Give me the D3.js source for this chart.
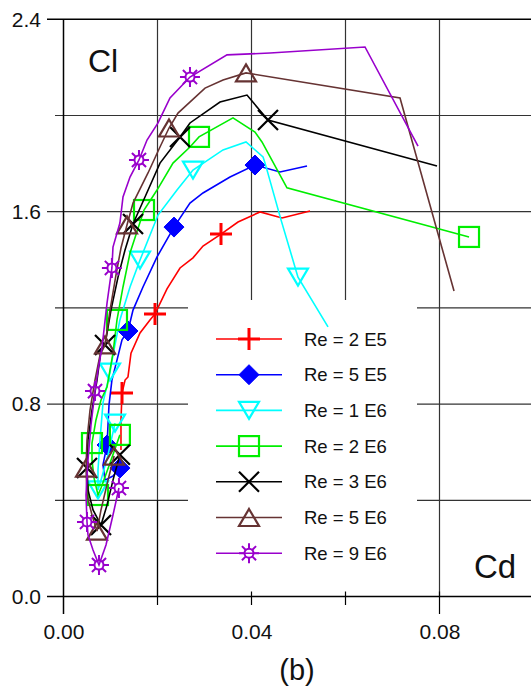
<!DOCTYPE html>
<html><head><meta charset="utf-8">
<script src="https://cdn.jsdelivr.net/npm/d3@7"></script>
<style>html,body{margin:0;padding:0;background:#fff;}svg{display:block;font-family:"Liberation Sans",Arial,sans-serif;}</style>
</head><body>
<svg id="c" width="531" height="690"></svg>
<script>
// ---- data (Cd, Cl) per Reynolds number ----
const labels = ["Re = 2 E5","Re = 5 E5","Re = 1 E6","Re = 2 E6","Re = 3 E6","Re = 5 E6","Re = 9 E6"];
const colors = ["#ff0000","#0000ff","#00ffff","#00ee00","#000000","#663333","#9900cc"];
const symbols = ["plus","diamond","triDown","square","cross","triUp","sun"];

const cdRe2e5 = [.01223,.01223,.01245,.0131,.01372,.01436,.01628,.0184,.01947,.02202,.02479,.02755,.02968,.03351,.03713,.04181,.04649,.05245];
const clRe2e5 = [.609,.734,.846,.900,.913,1.012,1.096,1.150,1.175,1.279,1.366,1.408,1.457,1.507,1.557,1.599,1.574,1.603];
const mkRe2e5 = [2,8,13];

const cdRe5e5 = [.0120,.01053,.00883,.0084,.00926,.00947,.00968,.0103,.01138,.01245,.01372,.01479,.01691,.0199,.02351,.02691,.02968,.03543,.04074,.04606,.05181];
const clRe5e5 = [.534,.501,.484,.547,.630,.713,.796,.900,.983,1.067,1.104,1.191,1.287,1.412,1.536,1.636,1.678,1.744,1.794,1.765,1.790];
const mkRe5e5 = [0,4,10,14,18];

const cdRe1e6 = [.01096,.00947,.00798,.00734,.00734,.00777,.0084,.0099,.01053,.0120,.01415,.01628,.02011,.02415,.02755,.03394,.03883,.04245,.04287,.04628,.04989,.05628];
const clRe1e6 = [.721,.589,.484,.443,.526,.651,.805,.933,1.004,1.150,1.287,1.399,1.586,1.690,1.773,1.857,1.890,1.828,1.803,1.566,1.328,1.121];
const mkRe1e6 = [0,3,7,11,14,20];

const cdRe2e6 = [.0120,.0099,.00798,.00734,.00649,.00606,.00606,.00691,.00798,.00926,.01053,.01138,.01266,.01415,.01713,.0199,.0233,.02691,.02883,.03606,.04074,.04223,.04755,.08628];
const clRe2e6 = [.672,.555,.451,.422,.493,.568,.638,.734,.817,.871,1.012,1.150,1.287,1.428,1.607,1.690,1.802,1.869,1.911,1.990,1.931,1.890,1.699,1.495];
const mkRe2e6 = [0,3,6,11,14,18,23];

const cdRe3e6 = [.0120,.01053,.00926,.00798,.00628,.00521,.0050,.00521,.00606,.00713,.00798,.00883,.0101,.0116,.01309,.01479,.01734,.02053,.02479,.02691,.0333,.03904,.04351,.07947];
const clRe3e6 = [.589,.484,.380,.297,.360,.443,.534,.651,.775,.900,1.025,1.046,1.191,1.328,1.441,1.549,1.661,1.802,1.911,1.969,2.056,2.085,1.981,1.790];
const mkRe3e6 = [0,3,6,11,15,18,22];

const cdRe5e6 = [.01077,.00947,.00798,.00713,.00606,.0050,.00479,.0050,.00564,.0067,.00777,.00883,.0099,.01117,.01223,.01351,.01479,.01798,.02053,.02245,.02436,.03011,.03394,.03883,.0716,.08309];
const clRe5e6 = [.584,.484,.360,.272,.339,.422,.534,.651,.775,.900,1.004,1.046,1.191,1.337,1.449,1.545,1.636,1.761,1.869,1.948,2.010,2.114,2.148,2.177,2.073,1.270];
const mkRe5e6 = [0,3,6,11,15,19,23];

const cdRe9e6 = [.0118,.01053,.00904,.00755,.00628,.00521,.0050,.00479,.00521,.00585,.0067,.00734,.0082,.00926,.0103,.01053,.0120,.01266,.01415,.01606,.01777,.02011,.02266,.02691,.03479,.04394,.06415,.07543];
const clRe9e6 = [.451,.339,.214,.131,.193,.256,.310,.422,.568,.713,.854,.942,1.037,1.220,1.366,1.453,1.553,1.661,1.744,1.815,1.898,1.969,2.073,2.160,2.252,2.260,2.285,1.873];
const mkRe9e6 = [0,3,6,10,14,19,23];

const cdSeries = [cdRe2e5,cdRe5e5,cdRe1e6,cdRe2e6,cdRe3e6,cdRe5e6,cdRe9e6];
const clSeries = [clRe2e5,clRe5e5,clRe1e6,clRe2e6,clRe3e6,clRe5e6,clRe9e6];
const mkSeries = [mkRe2e5,mkRe5e5,mkRe1e6,mkRe2e6,mkRe3e6,mkRe5e6,mkRe9e6];

const xGrid = [0,0.02,0.04,0.06,0.08];
const yGrid = [0.4,0.8,1.2,1.6,2.0,2.4];
const xTickLabels = [0,0.04,0.08];
const yTickLabels = [0,0.8,1.6,2.4];

// ---- drawing ----
const svg = d3.select("#c");
const x = d3.scaleLinear().domain([0,0.1]).range([63.5,533.5]);
const y = d3.scaleLinear().domain([0,2.4]).range([596.5,19.3]);
const gridCol = "#333";

// gridlines
const g = svg.append("g");
g.selectAll(".vg").data(xGrid.slice(1)).join("line")
  .attr("x1",d=>x(d)).attr("x2",d=>x(d)).attr("y1",y(2.4)).attr("y2",y(0))
  .attr("stroke",gridCol).attr("stroke-width",1.2);
g.selectAll(".hg").data(yGrid).join("line")
  .attr("x1",d=> yTickLabels.some(v=>Math.abs(v-d)<1e-9)?47:55).attr("x2",531)
  .attr("y1",d=>y(d)).attr("y2",d=>y(d))
  .attr("stroke",d=>d===2.4?"#000":gridCol).attr("stroke-width",d=>d===2.4?1.5:1.2);

// legend background
svg.append("rect").attr("x",188).attr("y",300).attr("width",229).attr("height",y(0)-300).attr("fill","#fff");

function marker(sel, type, color){
  if(type==="plus"){
    sel.append("path").attr("d","M-11,0H11M0,-11V11").attr("stroke",color).attr("stroke-width",3).attr("fill","none");
  } else if(type==="diamond"){
    sel.append("path").attr("d","M0,-10L10,0L0,10L-10,0Z").attr("fill",color).attr("stroke",color).attr("stroke-width",1);
  } else if(type==="triDown"){
    sel.append("path").attr("d","M-10,-8.5L10,-8.5L0,8.5Z").attr("fill","none").attr("stroke",color).attr("stroke-width",2.2);
  } else if(type==="square"){
    sel.append("rect").attr("x",-10).attr("y",-10).attr("width",20).attr("height",20).attr("fill","none").attr("stroke",color).attr("stroke-width",2.2);
  } else if(type==="cross"){
    sel.append("path").attr("d","M-10,-10L10,10M-10,10L10,-10").attr("stroke",color).attr("stroke-width",2.2);
  } else if(type==="triUp"){
    sel.append("path").attr("d","M0,-8.5L10,8.5L-10,8.5Z").attr("fill","none").attr("stroke",color).attr("stroke-width",2.2);
  } else if(type==="sun"){
    sel.append("circle").attr("r",4.5).attr("fill","none").attr("stroke",color).attr("stroke-width",2);
    let d="";
    for(let k=0;k<8;k++){const a=k*Math.PI/4;d+=`M${(4.5*Math.cos(a)).toFixed(2)},${(4.5*Math.sin(a)).toFixed(2)}L${(10*Math.cos(a)).toFixed(2)},${(10*Math.sin(a)).toFixed(2)}`;}
    sel.append("path").attr("d",d).attr("stroke",color).attr("stroke-width",2);
  }
}

const line = d3.line().x(d=>x(d[0])).y(d=>y(d[1]));
cdSeries.forEach((cds,i)=>{
  const pts = cds.map((c,j)=>[c,clSeries[i][j]]);
  const sg = svg.append("g");
  sg.append("path").datum(pts).attr("d",line).attr("fill","none").attr("stroke",colors[i]).attr("stroke-width",1.6).attr("stroke-linejoin","miter");
  mkSeries[i].forEach(j=>{
    const m = sg.append("g").attr("transform",`translate(${x(pts[j][0])},${y(pts[j][1])})`);
    marker(m, symbols[i], colors[i]);
  });
});

// legend
const lg = svg.append("g");
labels.forEach((lab,i)=>{
  const yy = 339 + i*35.7;
  lg.append("line").attr("x1",216).attr("x2",282).attr("y1",yy).attr("y2",yy).attr("stroke",colors[i]).attr("stroke-width",1.6);
  marker(lg.append("g").attr("transform",`translate(249,${yy})`), symbols[i], colors[i]);
  lg.append("text").attr("x",304).attr("y",yy).attr("dy","0.36em").attr("font-size",18.5).attr("fill","#111").text(lab);
});

// axes frame
svg.append("line").attr("x1",x(0)).attr("x2",x(0)).attr("y1",y(2.4)).attr("y2",614).attr("stroke","#000").attr("stroke-width",1.5);
svg.append("line").attr("x1",47).attr("x2",531).attr("y1",y(0)).attr("y2",y(0)).attr("stroke","#000").attr("stroke-width",1.5);
svg.selectAll(".xt").data(xGrid.slice(1)).join("line")
  .attr("x1",d=>x(d)).attr("x2",d=>x(d)).attr("y1",d=>d===0.02?y(0.4):591.5).attr("y2",d=>d===0.08?614:605)
  .attr("stroke","#000").attr("stroke-width",1.2);

// tick labels via d3 axes
const ax = svg.append("g").attr("transform",`translate(0,${y(0)})`)
  .call(d3.axisBottom(x).tickValues(xTickLabels).tickFormat(d3.format(".2f")).tickSize(0).tickPadding(27.5));
ax.select(".domain").remove();
ax.selectAll("text").attr("font-size",21).attr("font-family","Liberation Sans, Arial, sans-serif").attr("fill","#111");
const ay = svg.append("g").attr("transform",`translate(${x(0)},0)`)
  .call(d3.axisLeft(y).tickValues(yTickLabels).tickFormat(d3.format(".1f")).tickSize(0).tickPadding(22.5));
ay.select(".domain").remove();
ay.selectAll("text").attr("font-size",21).attr("font-family","Liberation Sans, Arial, sans-serif").attr("fill","#111");

// titles
svg.append("text").attr("x",88).attr("y",72).attr("font-size",32).attr("fill","#111").text("Cl");
svg.append("text").attr("x",474).attr("y",578).attr("font-size",33).attr("fill","#111").text("Cd");
svg.append("text").attr("x",297).attr("y",680).attr("text-anchor","middle").attr("font-size",29).attr("fill","#111").text("(b)");
</script>
</body></html>
